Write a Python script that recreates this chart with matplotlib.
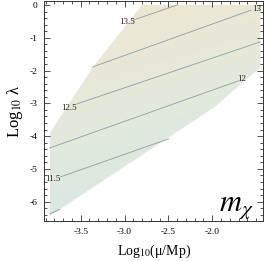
import numpy as np
import matplotlib
matplotlib.use("Agg")
import matplotlib.pyplot as plt
from matplotlib.patches import Polygon
from matplotlib.colors import LinearSegmentedColormap
from matplotlib.ticker import MultipleLocator

plt.rcParams['font.family'] = ['Liberation Serif', 'DejaVu Serif']
plt.rcParams['mathtext.fontset'] = 'stix'

# Allowed region boundary (log10(mu/Mp), log10 lambda)
region_x = [-3.85, -3.85, -3.36, -2.80, -1.45, -1.45, -1.65, -1.97]
region_y = [-6.43, -3.90, -1.89, 0.00, 0.00, -1.92, -2.35, -3.11]

# Contour lines of m_chi: level, start/end points, label position
levels = [13.5, 13.0, 12.5, 12.0, 11.5, 11.0]
line_x0 = [-2.90, -3.364, -3.545, -3.852, -3.727, -3.852]
line_y0 = [-0.46, -1.89, -3.02, -4.36, -5.24, -6.37]
line_x1 = [-2.40, -1.56, -1.455, -1.705, -2.50, -3.739]
line_y1 = [0.00, -0.16, -1.128, -2.317, -4.085, -6.235]
label_text = ["13.5", "13", "12.5", "12", "11.5", None]
label_x = [-2.975, -1.49, -3.635, -1.66, -3.82, None]
label_y = [-0.53, -0.12, -3.13, -2.25, -5.30, None]

fig = plt.figure(figsize=(2.65, 2.61), dpi=100)
ax = fig.add_axes([0.167, 0.153, 0.826, 0.843])
xlim = (-3.915, -1.42)
ylim = (-6.59, 0.12)
ax.set_xlim(*xlim)
ax.set_ylim(*ylim)

# gradient shading clipped to region (styling)
cmap = LinearSegmentedColormap.from_list(
    "shade", ["#cfe8e4", "#dde9e0", "#e8e8d8", "#efe6cf"])
gx = np.linspace(0, 1, 200)
gy = np.linspace(0, 1, 200)
GX, GY = np.meshgrid(gx, gy)
G = 0.85 * GY - 0.25 * GX
im = ax.imshow(G, extent=(xlim[0], xlim[1], ylim[0], ylim[1]), origin='lower',
               cmap=cmap, aspect='auto', zorder=1, interpolation='bilinear')
poly = Polygon(list(zip(region_x, region_y)), closed=True, facecolor='none',
               edgecolor='none', transform=ax.transData)
ax.add_patch(poly)
im.set_clip_path(poly)

for i in range(len(levels)):
    ax.plot([line_x0[i], line_x1[i]], [line_y0[i], line_y1[i]],
            color='#9aa8a6', lw=0.7, zorder=2)
    if label_text[i]:
        ax.text(label_x[i], label_y[i], label_text[i], fontsize=6.5,
                ha='center', va='center', color='#222222', zorder=3)

ax.text(-1.72, -6.15, r'$m_\chi$', fontsize=22, ha='center', va='center')

ax.set_xticks([-3.5, -3.0, -2.5, -2.0])
ax.set_xticklabels(["-3.5", "-3.0", "-2.5", "-2.0"])
ax.set_yticks([0, -1, -2, -3, -4, -5, -6])
ax.set_yticklabels(["0", "-1", "-2", "-3", "-4", "-5", "-6"])
ax.xaxis.set_minor_locator(MultipleLocator(0.1))
ax.yaxis.set_minor_locator(MultipleLocator(0.2))
ax.tick_params(which='both', direction='in', top=True, right=True,
               labelsize=6.8, color='#333333', width=0.6)
ax.tick_params(which='major', length=4, pad=5)
ax.tick_params(which='minor', length=2)
for s in ax.spines.values():
    s.set_linewidth(0.7)
    s.set_color('#333333')

ax.set_xlabel(r'Log$_{10}$(μ/Mp)', fontsize=10, labelpad=5)
ax.set_ylabel(r'Log$_{10}$ λ', fontsize=12, labelpad=3)

fig.savefig("out.png", dpi=100)
